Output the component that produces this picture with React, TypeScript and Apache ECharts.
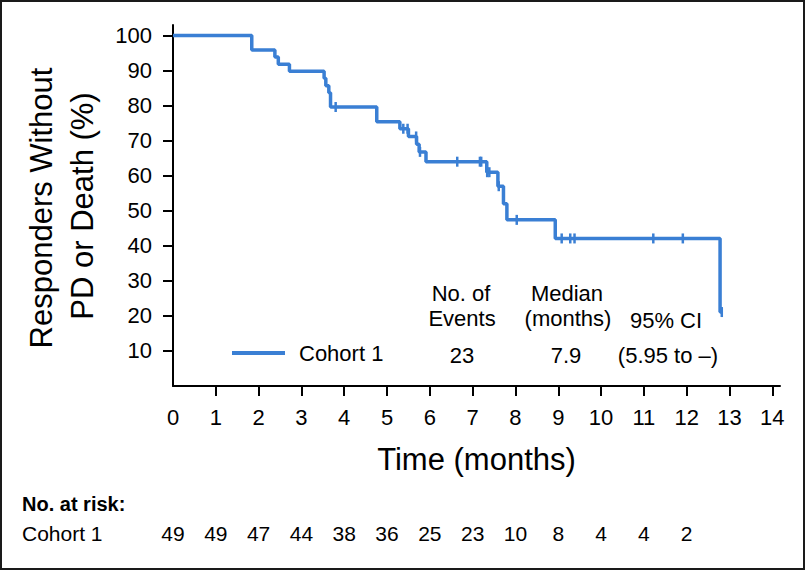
import React, { useEffect, useRef } from "react";
import * as echarts from "echarts";

// Kaplan-Meier step points: time (months) and survival (%) after each event
const kmTimes = [0, 1.84, 2.38, 2.46, 2.72, 3.53, 3.57, 3.64, 3.68, 4.76, 5.3, 5.5, 5.69, 5.75, 5.91, 7.33, 7.59, 7.72, 7.8, 8.93, 12.78, 12.82];
const kmSurvival = [100, 95.9, 93.9, 91.8, 89.8, 87.8, 85.7, 83.7, 79.6, 75.4, 73.4, 71.2, 69.0, 66.8, 64.0, 61.0, 57.0, 52.0, 47.4, 42.1, 21.1, 21.1];

// Censored observations
const censorTimes = [3.8, 5.38, 5.48, 5.68, 5.77, 6.64, 7.17, 7.2, 7.34, 7.39, 7.61, 8.03, 9.08, 9.28, 9.38, 11.22, 11.91, 12.82];
const censorSurvival = [79.6, 73.4, 73.4, 71.2, 66.8, 64.0, 64.0, 64.0, 61.0, 61.0, 57.0, 47.4, 42.1, 42.1, 42.1, 42.1, 42.1, 21.1];

// Axis ticks
const xTickValues = [0, 1, 2, 3, 4, 5, 6, 7, 8, 9, 10, 11, 12, 13, 14];
const yTickValues = [10, 20, 30, 40, 50, 60, 70, 80, 90, 100];

// Number at risk
const atRiskMonths = [0, 1, 2, 3, 4, 5, 6, 7, 8, 9, 10, 11, 12];
const atRiskCounts = [49, 49, 47, 44, 38, 36, 25, 23, 10, 8, 4, 4, 2];

// Summary table
const seriesName = "Cohort 1";
const tableHeaders = [["No. of", "Events"], ["Median", "(months)"], ["95% CI"]];
const tableRow = ["23", "7.9", "(5.95 to \u2013)"];

const FONT = "'Liberation Sans', Arial, Helvetica, sans-serif";
const BLUE = "#3a7fd4";

export default function App() {
  const ref = useRef<HTMLDivElement>(null);
  useEffect(() => {
    if (!ref.current) return;
    const chart = echarts.init(ref.current, undefined, { renderer: "svg" });
    const kmData = kmTimes.map((t, i) => [t, kmSurvival[i]]);
    const censorData = censorTimes.map((t, i) => [t, censorSurvival[i]]);
    const riskData = atRiskMonths.map((m, i) => [m, 0.5, atRiskCounts[i]]);
    const txt = (text: string, x: number, y: number, size: number, extra: any = {}) => ({
      type: "text",
      x,
      y,
      rotation: extra.rotation || 0,
      silent: true,
      style: {
        text,
        x: 0,
        y: 0,
        fill: "#000",
        fontSize: size,
        fontFamily: FONT,
        fontWeight: extra.bold ? "bold" : "normal",
        align: extra.align || "center",
        verticalAlign: "middle",
        textAlign: extra.align || "center",
        textVerticalAlign: "middle",
      },
    });
    chart.setOption({
      animation: false,
      backgroundColor: "#fff",
      grid: [
        { left: 173, right: 25, top: 25, bottom: 184 },
        { left: 173, right: 25, top: 523, height: 20 },
      ],
      legend: {
        data: [{ name: seriesName, icon: "rect" }],
        left: 232,
        top: 342,
        padding: 0,
        itemWidth: 53,
        itemHeight: 4,
        textStyle: { fontSize: 22, color: "#000", fontFamily: FONT, padding: [0, 0, 0, 9] },
      },
      xAxis: [
        {
          type: "value",
          gridIndex: 0,
          min: 0,
          max: 14.18,
          interval: 1,
          axisLine: { lineStyle: { color: "#000", width: 2 } },
          axisTick: { length: 10, lineStyle: { color: "#000", width: 2 }, customValues: xTickValues.slice(1) },
          axisLabel: { customValues: xTickValues, fontSize: 22, color: "#000", fontFamily: FONT, margin: 20 },
          splitLine: { show: false },
          name: "Time (months)",
          nameLocation: "middle",
          nameGap: 58,
          nameTextStyle: { fontSize: 31, color: "#000", fontFamily: FONT },
        },
        {
          type: "value",
          gridIndex: 1,
          min: 0,
          max: 14.18,
          show: false,
        },
      ],
      yAxis: [
        {
          type: "value",
          gridIndex: 0,
          min: 0,
          max: 103,
          interval: 10,
          axisLine: { show: true, lineStyle: { color: "#000", width: 2 } },
          axisTick: { show: true, length: 10, lineStyle: { color: "#000", width: 2 }, customValues: yTickValues },
          axisLabel: { customValues: yTickValues, fontSize: 22, color: "#000", fontFamily: FONT, margin: 21 },
          splitLine: { show: false },
        },
        { type: "value", gridIndex: 1, min: 0, max: 1, show: false },
      ],
      series: [
        {
          name: seriesName,
          type: "line",
          step: "end",
          data: kmData,
          symbol: "none",
          lineStyle: { color: BLUE, width: 3.5 },
          itemStyle: { color: BLUE },
          xAxisIndex: 0,
          yAxisIndex: 0,
          z: 3,
        },
        {
          name: "censored",
          type: "scatter",
          data: censorData,
          symbol: "rect",
          symbolSize: [2.5, 10],
          itemStyle: { color: BLUE, opacity: 1 },
          xAxisIndex: 0,
          yAxisIndex: 0,
          z: 4,
        },
        {
          name: "atRisk",
          type: "scatter",
          data: riskData,
          symbolSize: 0,
          itemStyle: { opacity: 1 },
          xAxisIndex: 1,
          yAxisIndex: 1,
          label: {
            show: true,
            position: "inside",
            formatter: (p: any) => String(p.value[2]),
            fontSize: 21,
            color: "#000",
            opacity: 1,
            fontFamily: FONT,
          },
        },
      ],
      graphic: [
        {
          type: "rect",
          shape: { x: 1, y: 1, width: 803, height: 568 },
          style: { fill: "none", stroke: "#1a1a1a", lineWidth: 2 },
          silent: true,
        },
        txt("Responders Without", 41, 208, 31, { rotation: Math.PI / 2 }),
        txt("PD or Death (%)", 82, 206, 31, { rotation: Math.PI / 2 }),
        txt(tableHeaders[0][0], 461, 293, 22),
        txt(tableHeaders[0][1], 462, 318, 22),
        txt(tableHeaders[1][0], 567, 293, 22),
        txt(tableHeaders[1][1], 568, 318, 22),
        txt(tableHeaders[2][0], 666, 320, 22),
        txt(tableRow[0], 462, 355, 22),
        txt(tableRow[1], 566, 355, 22),
        txt(tableRow[2], 668, 355, 22),
        txt("No. at risk:", 22, 504, 20, { align: "left", bold: true }),
        txt(seriesName, 22, 533, 21, { align: "left" }),
      ],
    });
    return () => chart.dispose();
  }, []);
  return (
    <div
      ref={ref}
      style={{ position: "fixed", left: 0, top: 0, width: 805, height: 570 }}
    />
  );
}
